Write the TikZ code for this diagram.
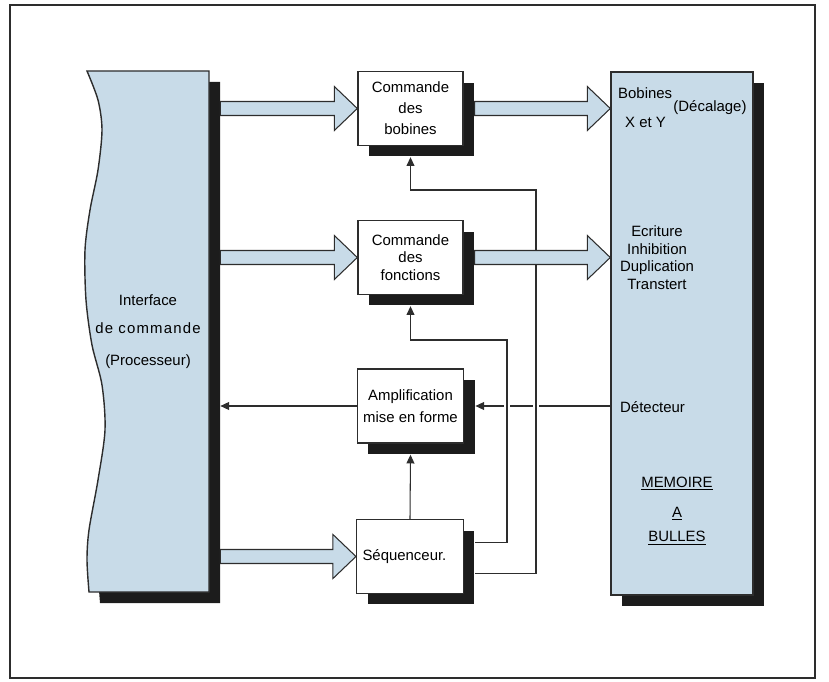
\documentclass[tikz,border=0pt]{standalone}
\usepackage{fontspec}
\setmainfont{Liberation Sans}
\usetikzlibrary{arrows.meta,shadows,calc}
\definecolor{bleu}{RGB}{200,219,232}
\definecolor{ombre}{RGB}{28,28,28}
\definecolor{trait}{RGB}{45,45,45}
\tikzset{
    bloc/.style={
        draw=trait, fill=white, line width=0.8pt,
        minimum width=2.1cm, minimum height=1.48cm, align=center,
        drop shadow={shadow xshift=0.22cm, shadow yshift=-0.22cm, fill=ombre, opacity=1}
    },
    fil/.style={draw=trait, line width=0.6pt, -{Triangle[length=5pt,width=4.5pt]}},
    pont/.style={preaction={draw=white, line width=3.5pt, -}},
    gros/.style={fill=bleu, draw=trait, line width=0.6pt, line join=miter}
}
% grosse fleche : du bord droit (ombre comprise) de #1 jusqu'a #2
\newcommand{\fleche}[2]{
    \draw[gros] let \p1=(#1), \p2=(#2) in
        (\x1+0.22cm,\y2+0.14cm) -- (\x2-0.46cm,\y2+0.14cm) -- (\x2-0.46cm,\y2+0.44cm)
        -- (\x2,\y2) -- (\x2-0.46cm,\y2-0.44cm) -- (\x2-0.46cm,\y2-0.14cm)
        -- (\x1+0.22cm,\y2-0.14cm) -- cycle;
}

\begin{document}
\begin{tikzpicture}[x=0.02cm, y=-0.02cm, font=\fontsize{8.5}{10}\selectfont]
\useasboundingbox (0,0) rectangle (829,682);
\draw[trait, line width=1pt] (10,5) rectangle (815,678);

% interface (bord gauche ondule)
\fill[ombre, shift={(11,11)}] (209,71) -- plot[smooth] coordinates {(87,71) (98,100) (102,130) (98,170) (90,210) (85,250) (86,300) (92,345) (102,385) (105,430) (98,480) (89,530) (87,560) (89,592)} -- (209,592) -- cycle;
\filldraw[fill=bleu, draw=trait, line width=0.8pt] (209,71) -- plot[smooth] coordinates {(87,71) (98,100) (102,130) (98,170) (90,210) (85,250) (86,300) (92,345) (102,385) (105,430) (98,480) (89,530) (87,560) (89,592)} -- (209,592) -- cycle;
\node[minimum width=2.44cm, minimum height=10.42cm, align=center] (IF) at (148,331.5)
    {Interface\\[6pt]{\addfontfeatures{LetterSpace=8}de commande}\\[8pt](Processeur)};

\node[bloc] (BOB) at (410.5,108.5) {Commande\\[2pt]des\\[2pt]bobines};
\node[bloc] (FON) at (410.5,257.5) {Commande\\des\\fonctions};
\node[bloc] (AMP) at (410.5,406) {Amplification\\[2.5pt]mise en forme};
\node[bloc, text width=1.9cm, align=left] (SEQ) at (410,556.5) {Séquenceur.};
\node[bloc, fill=bleu, minimum width=2.84cm, minimum height=10.46cm] (MEM) at (682,333.5) {};

\node[anchor=west] (BOBI) at (612,93) {Bobines};
\node (DEC) at (710,108) {(Décalage)};
\node[anchor=west] (XY) at (619,122) {X et Y};
\node[align=center] (FCT) at (657,257.5) {Ecriture\\Inhibition\\Duplication\\Transtert};
\node[anchor=west] (DET) at (614,407) {Détecteur};
\node[align=center] (MB) at (677,511) {\underline{MEMOIRE}\\[7pt]\underline{A}\\[4pt]\underline{BULLES}};

\draw[fil] (MEM.west |- AMP.east) -- ([xshift=0.22cm]AMP.east);
\draw[fil] (AMP.west) -- ([xshift=0.22cm]IF.east |- AMP.west);
\draw[fil] (SEQ.north) -- ([yshift=-0.22cm]AMP.south);
\draw[fil, pont] ($(SEQ.east)+(11,-14)$) -| (507,340) -| ([yshift=-0.22cm]FON.south);
\draw[fil, pont] ($(SEQ.east)+(11,17)$) -| (536,190) -| ([yshift=-0.22cm]BOB.south);

\fleche{IF.east}{BOB.west}
\fleche{IF.east}{FON.west}
\fleche{IF.east}{SEQ.west}
\fleche{BOB.east}{MEM.west |- BOB.east}
\fleche{FON.east}{MEM.west |- FON.east}
\end{tikzpicture}
\end{document}
